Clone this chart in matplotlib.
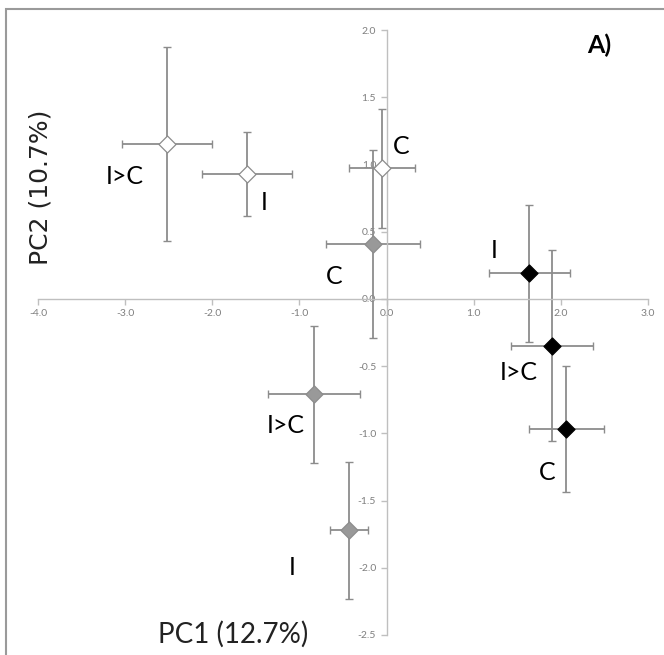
import numpy as np
import matplotlib

matplotlib.use("Agg")
import matplotlib.pyplot as plt
from matplotlib.patches import Rectangle

plt.rcParams["font.family"] = ["Lato", "DejaVu Sans"]

# PCA group means with error bars (PC1, PC2)
groups = ["open", "grey", "black"]
labels = {"open": ["I>C", "I", "C"],
          "grey": ["C", "I>C", "I"],
          "black": ["I", "I>C", "C"]}
pc1 = {"open": [-2.52, -1.60, -0.05],
       "grey": [-0.16, -0.83, -0.43],
       "black": [1.64, 1.90, 2.06]}
pc1_err = {"open": [0.52, 0.52, 0.38],
           "grey": [0.54, 0.53, 0.22],
           "black": [0.46, 0.47, 0.43]}
pc2 = {"open": [1.15, 0.93, 0.97],
       "grey": [0.41, -0.71, -1.72],
       "black": [0.19, -0.35, -0.97]}
pc2_err = {"open": [0.72, 0.31, 0.44],
           "grey": [0.70, 0.51, 0.51],
           "black": [0.51, 0.71, 0.47]}
# where the group label sits
lab_x = {"open": [-3.0, -1.41, 0.17],
         "grey": [-0.60, -1.16, -1.08],
         "black": [1.24, 1.52, 1.84]}
lab_y = {"open": [0.91, 0.72, 1.13],
         "grey": [0.17, -0.94, -2.0],
         "black": [0.36, -0.55, -1.29]}

face = {"open": "white", "grey": "#999999", "black": "black"}
edge = {"open": "#8c8c8c", "grey": "#8c8c8c", "black": "black"}

fig = plt.figure(figsize=(6.64, 6.55), dpi=100)
fig.patches.append(Rectangle((6 / 664, -0.1), 1.2, 1.1 - 9 / 655,
                             transform=fig.transFigure, fill=False,
                             edgecolor="#9a9a9a", lw=1.5))
ax = fig.add_axes([38 / 664, 1 - 635 / 655, 610 / 664, 605 / 655])
ax.set_xlim(-4, 3)
ax.set_ylim(-2.5, 2.0)

for g in groups:
    ax.errorbar(pc1[g], pc2[g], xerr=pc1_err[g], yerr=pc2_err[g], fmt="none",
                ecolor="#8c8c8c", elinewidth=1.3, capsize=3, capthick=1.0,
                zorder=2)
    ax.scatter(pc1[g], pc2[g], marker="D", s=75, c=face[g],
               edgecolors=edge[g], linewidths=0.9, zorder=3)
    for t, x, y in zip(labels[g], lab_x[g], lab_y[g]):
        ax.text(x, y, t, fontsize=18, ha="center", va="center", color="black")

for s in ["top", "right"]:
    ax.spines[s].set_visible(False)
ax.spines["left"].set_position(("data", 0))
ax.spines["bottom"].set_position(("data", 0))
for s in ["left", "bottom"]:
    ax.spines[s].set_color("#bfbfbf")
    ax.spines[s].set_linewidth(1.0)
ax.set_xticks(np.arange(-4, 3.5, 1.0))
ax.set_yticks(np.arange(-2.5, 2.1, 0.5))
ax.set_xticklabels([f"{v:.1f}" for v in np.arange(-4, 3.5, 1.0)])
ax.set_yticklabels([f"{v:.1f}" for v in np.arange(-2.5, 2.1, 0.5)])
ax.tick_params(axis="both", colors="#bfbfbf", labelcolor="#7f7f7f",
               labelsize=7.5, length=4, width=1.0)
ax.patch.set_visible(False)

fig.text(233 / 664, 1 - 634 / 655, "PC1 (12.7%)", fontsize=20,
         ha="center", va="center", color="#222222")
fig.text(41 / 664, 1 - 187 / 655, "PC2 (10.7%)", fontsize=18,
         family="DejaVu Sans", ha="center", va="center", rotation=90,
         color="#222222")
fig.text(599 / 664, 1 - 45 / 655, "A)", fontsize=18, fontweight="bold",
         ha="center", va="center")

fig.savefig("out.png", dpi=100)
